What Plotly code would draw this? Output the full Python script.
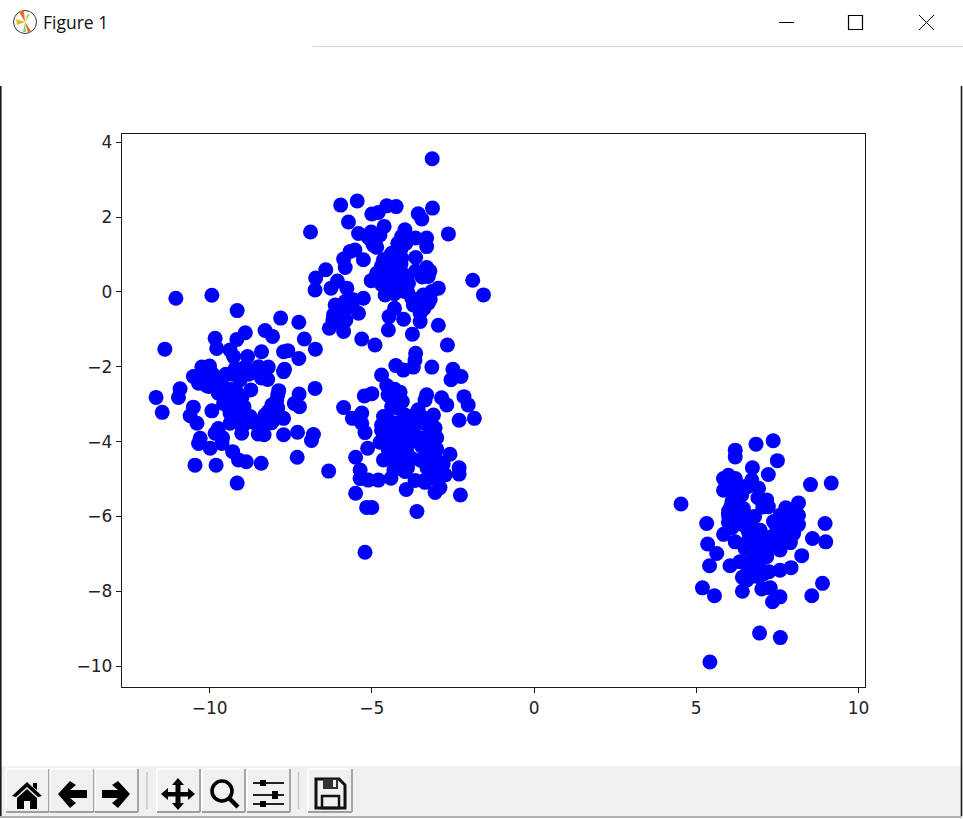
import plotly.graph_objects as go

cluster_a_x = [-11.04,-9.93,-9.15,-7.81,-7.25,-11.38,-9.83,-9.78,-9.16,-8.90,-8.29,-8.06,-7.08,-6.74,-9.37,-9.26,-8.83,-8.40,-7.72,-7.59,-7.25,-7.69,-7.72,-10.24,-10.0,-10.5,-9.21,-8.9,-8.49,-8.19,-8.44,-8.21,-10.19,-10.34,-10.03,-9.62,-9.06,-8.73,-10.91,-10.96,-11.65,-11.46,-6.75,-7.87,-7.24,-7.93,-7.39,-7.23,-10.5,-9.93,-10.6,-10.39,-9.73,-9.52,-9.37,-9.57,-9.16,-8.94,-9.37,-9.16,-8.75,-8.08,-8.19,-7.72,-8.03,-8.34,-8.42,-8.32,-9.01,-8.9,-9.37,-9.73,-9.83,-7.72,-7.29,-6.8,-6.86,-10.29,-10.34,-9.62,-9.98,-9.29,-9.11,-8.87,-8.41,-10.45,-9.8,-7.30,-9.15,-6.33,
               -9.6,-9.4,-9.2,-9.3,-9.0,-9.4,-9.1,-8.9,-8.6,-9.0,-9.6,-10.0,-10.2,-9.9,-10.3,-10.1,-9.8,-8.3,-8.4,-8.6,-8.8,-9.0,-7.9,-8.0,-8.1,-8.3,-8.5,-7.9,-9.5,-9.3]
cluster_a_y = [-0.17,-0.09,-0.50,-0.70,-0.81,-1.53,-1.24,-1.51,-1.27,-1.09,-1.03,-1.19,-1.26,-1.53,-1.55,-1.73,-1.73,-1.60,-1.60,-1.57,-1.78,-2.07,-2.13,-2.01,-1.98,-2.26,-2.04,-2.01,-2.0,-2.01,-2.17,-2.34,-2.31,-2.44,-2.53,-2.31,-2.35,-2.62,-2.59,-2.82,-2.82,-3.22,-2.58,-2.64,-2.73,-2.89,-2.98,-3.07,-3.08,-3.18,-3.31,-3.51,-2.71,-2.62,-2.80,-2.98,-3.02,-3.07,-3.24,-3.33,-3.33,-3.02,-3.20,-3.38,-3.42,-3.42,-3.65,-3.82,-3.78,-3.51,-3.51,-3.65,-3.78,-3.82,-3.75,-3.81,-3.97,-3.91,-4.05,-4.05,-4.18,-4.27,-4.49,-4.54,-4.58,-4.63,-4.63,-4.42,-5.11,-4.79,
               -2.6,-2.6,-2.6,-2.9,-2.8,-3.1,-3.2,-3.3,-3.5,-3.6,-3.9,-2.3,-2.1,-2.2,-2.3,-2.5,-2.5,-2.1,-2.3,-2.15,-2.2,-2.1,-3.1,-3.3,-3.5,-3.3,-3.8,-2.75,-2.2,-2.2]

cluster_b_x = [-3.14,-5.96,-5.45,-3.13,-4.25,-4.54,-4.80,-5.0,-3.57,-3.46,-5.72,-6.89,-2.64,-4.62,-3.98,-5.41,-5.02,-4.75,-4.08,-3.65,-3.31,-3.31,-4.10,-5.0,-4.85,-5.52,-5.67,-5.87,-5.26,-5.82,-4.39,-4.64,-4.08,-3.65,-4.39,-4.18,-4.64,-4.85,-3.31,-3.21,-3.65,-3.26,-6.42,-6.73,-6.75,-6.06,-6.26,-5.77,-5.02,-4.39,-4.08,-3.87,-4.59,-4.28,-4.59,-3.98,-2.95,-3.15,-1.89,-1.56,-5.26,-5.57,-5.82,-6.13,-5.41,-6.18,-5.93,-6.13,-6.31,-5.87,-4.30,-4.47,-4.02,-4.49,-5.31,-4.90,-3.75,-3.51,-3.51,-3.72,-3.41,-3.26,-3.77,-2.95,-2.67,
               -4.7,-4.5,-4.3,-4.1,-4.6,-4.4,-4.2,-4.0,-4.3,-4.5,-4.1,-3.9,-4.3,-4.45,-4.2,-3.3,-3.45,-3.35,-3.6,-3.5,-3.5,-3.2,-3.4,-5.6,-5.9,-6.0,-6.0,-5.9,-5.8,-6.2,-6.1,-4.9,-5.1,-4.95,-4.2,-3.95,-4.1,-4.7]
cluster_b_y = [3.56,2.32,2.43,2.24,2.28,2.30,2.12,2.08,2.09,1.95,1.87,1.60,1.55,1.75,1.66,1.56,1.60,1.52,1.48,1.44,1.44,1.21,1.26,1.35,1.19,1.12,1.08,0.88,0.86,0.65,1.03,0.86,0.90,0.92,0.77,0.63,0.59,0.50,0.65,0.56,0.56,0.41,0.59,0.37,0.05,0.29,0.10,0.10,0.30,0.41,0.28,0.23,0.19,0.10,-0.08,0.01,0.10,0.01,0.31,-0.08,-0.17,-0.21,-0.26,-0.35,-0.57,-0.61,-0.57,-0.79,-0.97,-1.06,-0.44,-0.66,-0.73,-1.02,-1.26,-1.42,-1.13,-0.79,-0.57,-0.35,-0.08,-0.30,-0.17,-0.89,-1.42,
               0.7,0.7,0.8,0.75,0.4,0.3,0.35,0.45,0.6,0.2,0.15,0.0,-0.05,0.95,1.0,0.5,0.4,0.55,-0.2,-0.25,-0.4,-0.2,-0.45,-0.4,-0.4,-0.5,-0.75,-0.85,-0.75,-0.75,-0.6,1.35,1.45,1.25,1.3,1.3,1.15,0.2]

cluster_c_x = [-3.65,-3.67,-3.72,-4.26,-4.03,-3.15,-2.50,-2.25,-2.56,-4.70,-4.54,-4.13,-5.0,-5.23,-4.44,-3.31,-3.36,-2.85,-2.69,-2.16,-2.03,-1.84,-2.31,-5.87,-5.31,-5.60,-5.31,-5.21,-4.39,-4.06,-4.64,-4.70,-3.57,-3.10,-3.98,-3.36,-3.05,-3.67,-4.44,-4.75,-5.13,-4.18,-3.67,-3.16,-3.93,-3.46,-5.50,-4.64,-4.44,-3.77,-3.05,-2.59,-2.90,-2.31,-2.31,-2.74,-4.32,-3.98,-5.36,-5.36,-5.11,-4.80,-4.41,-3.67,-3.36,-3.05,-2.90,-3.05,-3.94,-5.50,-2.27,-5.16,-5.0,-3.61,-5.21,
               -4.5,-4.4,-4.2,-4.0,-3.8,-3.7,-3.4,-3.2,-3.6,-3.4,-3.3,-3.0,-3.2,-3.5,-4.0,-4.0,-4.3,-4.1,-4.5,-4.3,-4.0,-3.9,-3.0,-3.1,-2.9,-2.8,-3.3,-4.7,-4.5,-4.2,-4.3,-3.2,-3.0,-3.4,-4.5,-4.3]
cluster_c_y = [-1.64,-1.82,-2.01,-1.97,-2.09,-2.01,-2.07,-2.26,-2.35,-2.22,-2.50,-2.68,-2.72,-2.78,-2.80,-2.75,-2.89,-2.83,-3.02,-2.80,-3.02,-3.38,-3.43,-3.09,-3.24,-3.38,-3.51,-3.76,-3.07,-2.93,-3.33,-3.56,-3.15,-3.29,-3.29,-3.38,-3.64,-3.51,-3.82,-4.02,-4.18,-4.0,-3.82,-3.96,-4.22,-4.13,-4.42,-4.49,-4.34,-4.45,-4.40,-4.34,-4.58,-4.70,-4.87,-4.89,-4.76,-4.80,-4.76,-4.99,-5.03,-5.03,-4.98,-5.04,-5.09,-4.98,-5.23,-5.36,-5.28,-5.38,-5.43,-5.76,-5.76,-5.87,-6.96,
               -3.4,-3.6,-3.5,-3.6,-3.6,-3.3,-3.5,-3.5,-4.0,-3.9,-4.3,-4.2,-4.5,-4.5,-4.0,-3.85,-3.8,-4.3,-4.2,-4.5,-4.55,-4.7,-4.7,-4.9,-4.85,-4.6,-4.7,-3.7,-3.85,-3.1,-2.9,-3.7,-3.9,-5.05,-2.75,-2.6]

cluster_d_x = [7.37,6.84,6.20,6.20,7.50,6.73,7.22,5.84,5.99,6.20,4.53,8.52,9.16,5.84,6.71,6.56,6.92,6.40,6.15,7.17,8.15,7.76,7.22,6.07,6.45,5.99,8.0,8.15,7.58,5.32,8.97,5.99,6.35,6.71,7.38,8.15,7.79,6.61,6.97,7.48,8.0,5.84,6.20,8.58,8.99,5.35,7.12,7.74,6.71,6.50,5.63,7.58,7.17,6.92,8.25,5.41,6.04,6.35,6.71,7.92,7.58,6.97,7.24,6.42,6.73,6.56,8.89,8.56,5.19,5.56,6.42,7.02,7.28,7.58,7.35,6.95,7.59,5.42,
               6.1,6.0,6.2,6.4,6.5,6.6,6.8,7.0,6.8,7.0,6.9,6.6,6.75,7.3,7.5,7.6,7.7,7.95,7.8,8.0,7.4,7.2,6.0,6.3,6.4,6.9,7.05,6.55,6.3,6.1,7.9,7.6,6.8,6.6,6.85,7.05,6.2,6.0]
cluster_d_y = [-3.98,-4.07,-4.23,-4.41,-4.51,-4.70,-4.88,-4.99,-4.90,-4.99,-5.67,-5.15,-5.11,-5.30,-5.03,-5.21,-5.25,-5.43,-5.48,-5.56,-5.64,-5.77,-5.74,-5.74,-5.79,-5.92,-5.92,-5.97,-5.97,-6.19,-6.19,-6.16,-6.10,-6.14,-6.14,-6.22,-6.23,-6.41,-6.37,-6.37,-6.46,-6.48,-6.68,-6.59,-6.68,-6.74,-6.63,-6.68,-6.81,-6.86,-6.99,-6.90,-7.08,-6.90,-7.05,-7.32,-7.32,-7.21,-7.17,-7.37,-7.44,-7.39,-7.48,-7.63,-7.57,-7.70,-7.79,-8.12,-7.91,-8.12,-8.0,-7.94,-7.91,-8.15,-8.28,-9.12,-9.24,-9.89,
               -5.6,-5.85,-5.75,-6.0,-6.25,-6.0,-6.0,-6.55,-6.55,-6.75,-7.05,-6.65,-7.0,-6.55,-6.6,-6.2,-6.45,-6.1,-5.9,-6.3,-6.8,-6.9,-6.0,-5.85,-5.2,-5.5,-5.75,-6.3,-6.2,-6.3,-6.7,-6.75,-7.3,-7.45,-7.6,-7.55,-5.2,-5.2]

x_ticks = [-10, -5, 0, 5, 10]
y_ticks = [-10, -8, -6, -4, -2, 0, 2, 4]
window_title = "Figure 1"

W, H = 963, 819
L, R, T, B = 122, 865, 134, 687
INK = "#000000"


def fx(p):
    return (p - L) / (R - L)


def fy(p):
    return (B - p) / (B - T)


def rect(x0, y0, x1, y1, fill=None, line=None, lw=1, layer="above"):
    return dict(type="rect", xref="paper", yref="paper", x0=fx(x0), x1=fx(x1), y0=fy(y1), y1=fy(y0),
                fillcolor=fill or "rgba(0,0,0,0)", line=dict(color=line or "rgba(0,0,0,0)", width=lw if line else 0),
                layer=layer)


def seg(x0, y0, x1, y1, color=INK, lw=1):
    return dict(type="line", xref="paper", yref="paper", x0=fx(x0), x1=fx(x1), y0=fy(y0), y1=fy(y1),
                line=dict(color=color, width=lw), layer="above")


def poly(points, fill=INK, line=None, lw=0):
    d = "M " + " L ".join(f"{fx(a):.5f} {fy(b):.5f}" for a, b in points) + " Z"
    return dict(type="path", path=d, xref="paper", yref="paper", fillcolor=fill,
                line=dict(color=line or "rgba(0,0,0,0)", width=lw), layer="above")


def circle(cx, cy, r, fill=None, line=INK, lw=1):
    return dict(type="circle", xref="paper", yref="paper", x0=fx(cx - r), x1=fx(cx + r), y0=fy(cy + r), y1=fy(cy - r),
                fillcolor=fill or "rgba(0,0,0,0)", line=dict(color=line, width=lw), layer="above")


shapes = []
# window frame
shapes += [rect(0, 766, 961, 817, fill="#f0f0f0", layer="below")]
shapes += [seg(313, 46.5, 963, 46.5, "#d4d4d4", 1)]
shapes += [seg(0.8, 86, 0.8, 816, "#1a1a1a", 1.6), seg(961.5, 86, 961.5, 816, "#1a1a1a", 1.6)]
shapes += [seg(0, 817, 962, 817, "#9a9a9a", 1.6)]
# caption buttons
shapes += [seg(779, 22.5, 794, 22.5, INK, 1), rect(848.5, 15.5, 862.5, 29.5, line=INK, lw=1.2),
           seg(919, 15, 934, 30, INK, 1), seg(934, 15, 919, 30, INK, 1)]
# title-bar logo
shapes += [circle(25, 22, 11.5, fill="#ffffff", line="#333333", lw=1),
           poly([(25, 22), (19, 12), (24, 11)], "#f26b1d"),
           poly([(25, 22), (31, 31), (28, 33)], "#e0701f"),
           poly([(25, 22), (16, 19), (17, 25)], "#e8b81c"),
           poly([(25, 22), (30, 14), (27, 15)], "#9ccb3c"),
           poly([(25, 22), (23, 32), (26, 32)], "#7fc97f")]
# toolbar buttons
for a, b in [(6, 49), (50, 94), (95, 138), (157, 200), (202, 245), (247, 290), (308, 352)]:
    shapes += [seg(a, 769, b, 769, "#ffffff", 1.4), seg(a, 769, a, 811, "#ffffff", 1.4),
               seg(b, 769, b, 812, "#9e9e9e", 1.8), seg(a, 812, b, 812, "#9e9e9e", 1.8)]
for sx in [147, 298.5]:
    shapes += [seg(sx, 772, sx, 809, "#c4c4c4", 1.4)]
# home
shapes += [poly([(12, 796), (27, 782), (42, 796), (38, 797), (27, 787), (16, 797)]),
           poly([(17, 798), (27, 789), (37, 798), (37, 809), (30, 809), (30, 801), (24, 801), (24, 809), (17, 809)]),
           poly([(33, 783), (37, 783), (37, 790), (33, 787)])]
# back / forward
shapes += [poly([(58, 794), (70, 781), (76, 785), (70, 790), (87, 790), (87, 798), (70, 798), (76, 803), (70, 808)]),
           poly([(130, 794), (118, 781), (112, 785), (118, 790), (102, 790), (102, 798), (118, 798), (112, 803), (118, 808)])]
# move
shapes += [poly([(178, 778), (184, 785), (180.5, 785), (180.5, 792), (188, 792), (188, 788), (195, 794), (188, 800),
                 (188, 796.5), (180.5, 796.5), (180.5, 803), (184, 803), (178, 810), (172, 803), (175.5, 803),
                 (175.5, 796.5), (168, 796.5), (168, 800), (161, 794), (168, 788), (168, 792), (175.5, 792),
                 (175.5, 785), (172, 785)])]
# zoom
shapes += [circle(222, 791, 10, line=INK, lw=3.6), seg(229, 798, 238, 807, INK, 4.5)]
# sliders
shapes += [seg(253, 783, 284, 783, "#222222", 2), seg(253, 795, 284, 795, "#222222", 2), seg(253, 804, 284, 804, "#222222", 2),
           rect(260, 780, 266, 786, fill=INK), rect(272, 791, 278, 799, fill=INK), rect(260, 801, 266, 807, fill=INK)]
# save
shapes += [poly([(316, 779), (339, 779), (345, 785), (345, 808), (316, 808)], fill="rgba(0,0,0,0)", line="#111111", lw=3),
           rect(323, 779, 338, 789, fill="#333333"), rect(333, 780, 336, 787, fill="#f0f0f0"),
           rect(322, 796, 339, 808, line="#111111", lw=2.5)]

annotations = [dict(text=window_title, xref="paper", yref="paper", x=fx(41), y=fy(22.5), xanchor="left", yanchor="middle",
                    showarrow=False, font=dict(family="Open Sans", size=17.5, color="#111111"))]

fig = go.Figure()
fig.add_trace(go.Scatter(
    x=cluster_a_x + cluster_b_x + cluster_c_x + cluster_d_x,
    y=cluster_a_y + cluster_b_y + cluster_c_y + cluster_d_y,
    mode="markers",
    marker=dict(color="#0000ff", size=15, line=dict(width=0)),
    hoverinfo="skip",
    showlegend=False,
))

axis_style = dict(showgrid=False, zeroline=False, showline=True, mirror=True, linecolor="#1a1a1a", linewidth=1.4,
                  ticks="outside", ticklen=5, tickwidth=1.2, tickcolor="#1a1a1a",
                  tickfont=dict(family="DejaVu Sans", size=17, color="#222222"))
fig.update_xaxes(range=[-12.70, 10.20], tickvals=x_ticks, ticktext=["\u221210", "\u22125", "0", "5", "10"], **axis_style)
fig.update_yaxes(range=[-10.56, 4.22], tickvals=y_ticks,
                 ticktext=["\u221210", "\u22128", "\u22126", "\u22124", "\u22122", "0", "2", "4"], **axis_style)
fig.update_layout(
    width=W, height=H,
    margin=dict(l=L, r=W - R, t=T, b=H - B, pad=0),
    paper_bgcolor="#ffffff", plot_bgcolor="#ffffff",
    shapes=shapes, annotations=annotations,
)
fig.write_html("out.html", config=dict(displayModeBar=False),
               post_script="document.body.style.margin='0';document.body.style.overflow='hidden';")
